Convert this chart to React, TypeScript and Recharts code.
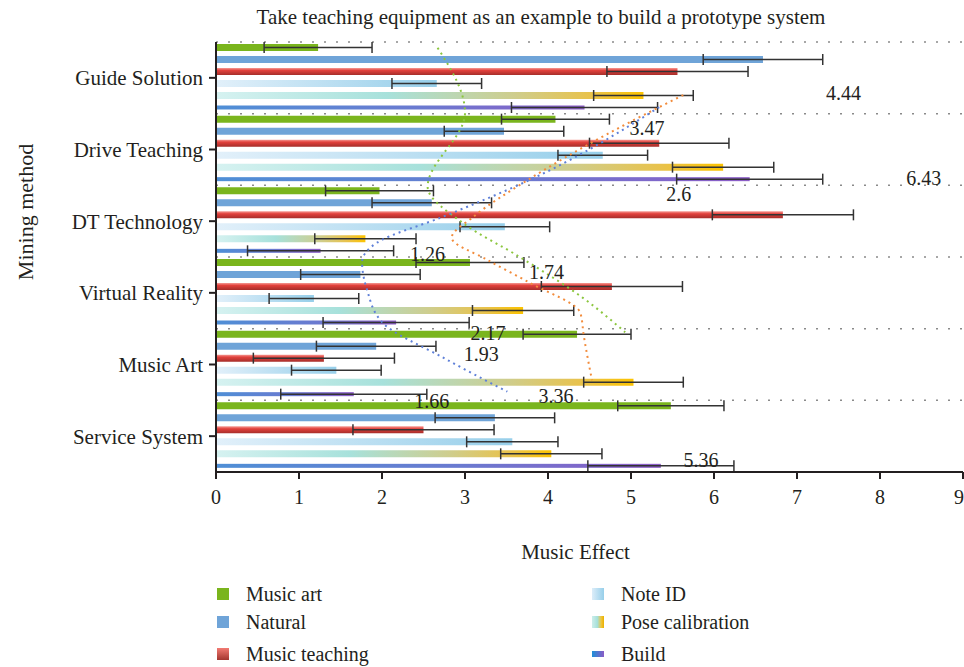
import { ComposedChart, Bar, XAxis, YAxis, CartesianGrid, ErrorBar, LabelList, Scatter } from 'recharts';

const FONT = "'Liberation Serif', 'Times New Roman', serif";
const INK = '#231f20';

const categories = ['Guide Solution', 'Drive Teaching', 'DT Technology', 'Virtual Reality', 'Music Art', 'Service System'];

const musicArt = [1.23, 4.09, 1.97, 3.06, 4.35, 5.48];
const musicArtErr = [0.65, 0.65, 0.65, 0.65, 0.65, 0.64];
const natural = [6.59, 3.47, 2.6, 1.74, 1.93, 3.36];
const naturalErr = [0.72, 0.72, 0.72, 0.72, 0.72, 0.72];
const musicTeaching = [5.56, 5.34, 6.83, 4.77, 1.3, 2.5];
const musicTeachingErr = [0.85, 0.84, 0.85, 0.85, 0.85, 0.85];
const noteId = [2.66, 4.66, 3.48, 1.18, 1.45, 3.57];
const noteIdErr = [0.54, 0.54, 0.54, 0.54, 0.54, 0.55];
const pose = [5.15, 6.11, 1.8, 3.7, 5.03, 4.04];
const poseErr = [0.6, 0.61, 0.61, 0.61, 0.6, 0.61];
const build = [4.44, 6.43, 1.26, 2.17, 1.66, 5.36];
const buildErr = [0.88, 0.88, 0.88, 0.88, 0.88, 0.88];

const xTicks = [0, 1, 2, 3, 4, 5, 6, 7, 8, 9];

// dotted trend curves: x = music effect, y = position down the category bands (0 = top of first band)
const trendGreenX = [2.67, 3.0, 2.55, 2.98, 3.66, 4.42, 4.93];
const trendGreenY = [0.08, 0.99, 2.02, 2.53, 3.0, 3.57, 4.05];
const trendOrangeX = [5.63, 4.69, 3.75, 3.1, 2.84, 3.27, 3.78, 4.39, 4.43, 4.53];
const trendOrangeY = [0.74, 1.3, 1.93, 2.44, 2.73, 3.04, 3.36, 3.78, 4.09, 4.72];
const trendBlueX = [5.34, 3.75, 2.73, 1.94, 1.76, 1.82, 2.01, 2.73, 3.51];
const trendBlueY = [0.91, 1.94, 2.44, 2.8, 3.07, 3.46, 3.92, 4.4, 4.88];

const chartData = categories.map((name, i) => ({
  name,
  musicArt: musicArt[i], musicArtErr: musicArtErr[i],
  natural: natural[i], naturalErr: naturalErr[i],
  musicTeaching: musicTeaching[i], musicTeachingErr: musicTeachingErr[i],
  noteId: noteId[i], noteIdErr: noteIdErr[i],
  pose: pose[i], poseErr: poseErr[i],
  build: build[i], buildErr: buildErr[i],
}));

const toPoints = (xs: number[], ys: number[]) => xs.map((x, i) => ({ x, y: ys[i] }));
const trendGreen = toPoints(trendGreenX, trendGreenY);
const trendOrange = toPoints(trendOrangeX, trendOrangeY);
const trendBlue = toPoints(trendBlueX, trendBlueY);

// label nudges (px from bar end / bar middle), the labels sit loosely like in the original figure
const naturalNudge = [null, [143, -3], [247, -9], [186, -3], [105, 8], [61, -22]];
const buildNudge = [[259, -15], [174, -1], [107, 3], [92, 10], [78, 7], [40, -6]];

const valueLabel = (series: number[], nudges: (number[] | null)[]) => (props: any) => {
  const { x, y, width, height, value } = props;
  const i = props.index ?? series.indexOf(value);
  const n = nudges[i];
  if (!n) return null;
  return (
    <text x={x + width + n[0]} y={y + height / 2 + n[1]} textAnchor="middle" dominantBaseline="central"
      fontSize={20} fontFamily={FONT} fill={INK}>{value}</text>
  );
};

const ThinBar = (props: any) => {
  const { x, y, width, height, fill } = props;
  if (!width || width <= 0) return <g />;
  return <rect x={x} y={y + 1.5} width={width} height={Math.max(height - 3, 1)} fill={fill} />;
};

const noDot = () => <g />;

const errProps = { direction: 'x' as const, width: 5.5, stroke: '#333', strokeWidth: 1.5 };

const legendItems = [
  { name: 'Music art', bg: '#7ab51d', h: 12 },
  { name: 'Natural', bg: '#6fa4d8', h: 12 },
  { name: 'Music teaching', bg: 'linear-gradient(to bottom, #f27a72, #a3362f)', h: 12 },
  { name: 'Note ID', bg: 'linear-gradient(to right, #dcedf9, #97cfea)', h: 12 },
  { name: 'Pose calibration', bg: 'linear-gradient(to right, #cdeeea 0%, #a6e0da 45%, #f2c230 80%, #e8b000 100%)', h: 12 },
  { name: 'Build', bg: 'linear-gradient(to right, #1e8fd8, #8a5cc6)', h: 6 },
];
const legendRows = [594, 622, 654];
const legendCols = [217, 592];

export default function App() {
  return (
    <div style={{ position: 'absolute', left: 0, top: 0, width: 964, height: 667, background: '#fff', fontFamily: FONT, color: INK }}>
      <div style={{ position: 'absolute', left: 191, top: 6, width: 700, textAlign: 'center', fontSize: 21, lineHeight: '22px' }}>
        Take teaching equipment as an example to build a prototype system
      </div>
      <ComposedChart width={964} height={667} data={chartData} layout="vertical"
        margin={{ top: 42, right: 1, bottom: 165, left: 0 }} barGap={5} barCategoryGap={0}>
        <defs>
          <linearGradient id="gRed" x1="0" y1="0" x2="0" y2="1">
            <stop offset="0%" stopColor="#f59a94" />
            <stop offset="35%" stopColor="#e2413c" />
            <stop offset="100%" stopColor="#a62e2a" />
          </linearGradient>
          <linearGradient id="gNote" x1="0" y1="0" x2="1" y2="0">
            <stop offset="0%" stopColor="#e2f0fa" />
            <stop offset="100%" stopColor="#97cfea" />
          </linearGradient>
          <linearGradient id="gPose" x1="0" y1="0" x2="1" y2="0">
            <stop offset="0%" stopColor="#d6f2f1" />
            <stop offset="40%" stopColor="#a7e1db" />
            <stop offset="70%" stopColor="#cfcd8c" />
            <stop offset="88%" stopColor="#e9c24a" />
            <stop offset="100%" stopColor="#fcc300" />
          </linearGradient>
          <linearGradient id="gBuild" x1="0" y1="0" x2="1" y2="0">
            <stop offset="0%" stopColor="#4f8fd6" />
            <stop offset="55%" stopColor="#6a7ad0" />
            <stop offset="100%" stopColor="#8c5cc6" />
          </linearGradient>
        </defs>
        <CartesianGrid vertical={false} stroke="#8a8a8a" strokeWidth={1.5} strokeDasharray="2 10"
          horizontalCoordinatesGenerator={({ offset }: any) => [0, 1, 2, 3, 4, 5].map((i) => offset.top + (i * offset.height) / 6)} />
        <XAxis type="number" domain={[0, 9]} ticks={xTicks} height={30} tickSize={7} tickMargin={11}
          axisLine={{ stroke: INK, strokeWidth: 2 }} tickLine={{ stroke: INK, strokeWidth: 2 }}
          tick={{ fontSize: 20, fontFamily: FONT, fill: INK }}
          label={(p: any) => (
            <text x={p.viewBox.x + p.viewBox.width / 2 - 14} y={p.viewBox.y + 80} textAnchor="middle"
              dominantBaseline="central" fontSize={21} fontFamily={FONT} fill={INK}>Music Effect</text>
          )} />
        <YAxis type="category" dataKey="name" width={216} tickSize={7} tickMargin={6}
          axisLine={{ stroke: INK, strokeWidth: 2 }} tickLine={{ stroke: INK, strokeWidth: 2 }}
          tick={{ fontSize: 21, fontFamily: FONT, fill: INK }}
          label={(p: any) => (
            <text x={p.viewBox.x + 25} y={p.viewBox.y + 170} textAnchor="middle" dominantBaseline="central"
              transform={`rotate(-90, ${p.viewBox.x + 25}, ${p.viewBox.y + 170})`}
              fontSize={22} fontFamily={FONT} fill={INK}>Mining method</text>
          )} />
        <YAxis yAxisId="band" type="number" dataKey="y" domain={[0, 6]} hide />

        <Bar dataKey="musicArt" name="Music art" barSize={7} fill="#7ab51d" isAnimationActive={false}>
          <ErrorBar dataKey="musicArtErr" {...errProps} />
        </Bar>
        <Bar dataKey="natural" name="Natural" barSize={7} fill="#6fa4d8" isAnimationActive={false}>
          <ErrorBar dataKey="naturalErr" {...errProps} />
          <LabelList dataKey="natural" content={valueLabel(natural, naturalNudge)} />
        </Bar>
        <Bar dataKey="musicTeaching" name="Music teaching" barSize={7} fill="url(#gRed)" isAnimationActive={false}>
          <ErrorBar dataKey="musicTeachingErr" {...errProps} />
        </Bar>
        <Bar dataKey="noteId" name="Note ID" barSize={7} fill="url(#gNote)" isAnimationActive={false}>
          <ErrorBar dataKey="noteIdErr" {...errProps} />
        </Bar>
        <Bar dataKey="pose" name="Pose calibration" barSize={7} fill="url(#gPose)" isAnimationActive={false}>
          <ErrorBar dataKey="poseErr" {...errProps} />
        </Bar>
        <Bar dataKey="build" name="Build" barSize={7} fill="url(#gBuild)" shape={ThinBar} isAnimationActive={false}>
          <ErrorBar dataKey="buildErr" {...errProps} />
          <LabelList dataKey="build" content={valueLabel(build, buildNudge)} />
        </Bar>

        <Scatter yAxisId="band" data={trendGreen} dataKey="x" fill="#8cc63f" shape={noDot} line={{ stroke: '#8cc63f', strokeWidth: 2, strokeDasharray: '2 4' }}
          lineType="joint" lineJointType="monotoneY" isAnimationActive={false} />
        <Scatter yAxisId="band" data={trendOrange} dataKey="x" fill="#f28c3c" shape={noDot} line={{ stroke: '#f28c3c', strokeWidth: 2, strokeDasharray: '2 4' }}
          lineType="joint" lineJointType="monotoneY" isAnimationActive={false} />
        <Scatter yAxisId="band" data={trendBlue} dataKey="x" fill="#5f80d8" shape={noDot} line={{ stroke: '#5f80d8', strokeWidth: 2, strokeDasharray: '2 4' }}
          lineType="joint" lineJointType="monotoneY" isAnimationActive={false} />
      </ComposedChart>
      {legendItems.map((it, i) => {
        const col = Math.floor(i / 3);
        const row = i % 3;
        return (
          <div key={it.name} style={{ position: 'absolute', left: legendCols[col], top: legendRows[row] - 12, height: 24, display: 'flex', alignItems: 'center', fontSize: 20 }}>
            <span style={{ display: 'inline-block', width: 12, height: it.h, background: it.bg, marginRight: 17 }} />
            <span>{it.name}</span>
          </div>
        );
      })}
    </div>
  );
}
